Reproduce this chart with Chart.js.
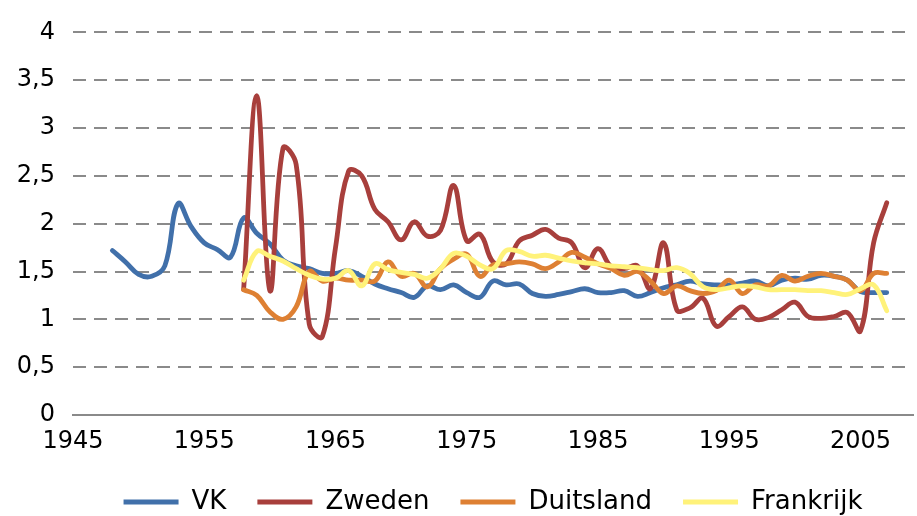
<!DOCTYPE html>
<html>
<head>
<meta charset="utf-8">
<script src="https://cdn.jsdelivr.net/npm/chart.js@4/dist/chart.umd.min.js"></script>
<style>
  html, body { margin: 0; padding: 0; background: #ffffff; }
  #wrap { width: 917px; height: 516px; }
</style>
</head>
<body>
<div id="wrap"><canvas id="c" width="917" height="516"></canvas></div>
<script>
// ---- data ----
const seriesNames = ['VK', 'Zweden', 'Duitsland', 'Frankrijk'];

const vkYears = [1948,1949,1950,1951,1952,1953,1954,1955,1956,1957,1958,1959,1960,1961,1962,1963,1964,1965,1966,1967,1968,1969,1970,1971,1972,1973,1974,1975,1976,1977,1978,1979,1980,1981,1982,1983,1984,1985,1986,1987,1988,1989,1990,1991,1992,1993,1994,1995,1996,1997,1998,1999,2000,2001,2002,2003,2004,2005,2006,2007];
const vkValues = [1.72,1.60,1.47,1.45,1.56,2.21,1.97,1.80,1.73,1.65,2.06,1.90,1.79,1.62,1.56,1.53,1.48,1.48,1.51,1.45,1.37,1.32,1.28,1.23,1.35,1.31,1.36,1.28,1.23,1.40,1.36,1.37,1.27,1.24,1.26,1.29,1.32,1.28,1.28,1.30,1.24,1.28,1.33,1.36,1.40,1.37,1.36,1.36,1.38,1.40,1.35,1.41,1.43,1.42,1.46,1.45,1.41,1.29,1.28,1.28];

const otherYears = [1958,1959,1960,1961,1962,1963,1964,1965,1966,1967,1968,1969,1970,1971,1972,1973,1974,1975,1976,1977,1978,1979,1980,1981,1982,1983,1984,1985,1986,1987,1988,1989,1990,1991,1992,1993,1994,1995,1996,1997,1998,1999,2000,2001,2002,2003,2004,2005,2006,2007];
const zwedenValues = [1.31,3.34,1.30,2.79,2.62,0.95,0.82,1.75,2.55,2.50,2.15,2.02,1.83,2.02,1.87,1.93,2.40,1.82,1.89,1.60,1.58,1.82,1.88,1.94,1.85,1.80,1.54,1.74,1.55,1.53,1.56,1.32,1.80,1.10,1.12,1.22,0.93,1.03,1.13,1.00,1.02,1.10,1.18,1.03,1.01,1.03,1.07,0.88,1.80,2.22];
const duitslandValues = [1.31,1.25,1.08,1.00,1.13,1.50,1.40,1.43,1.41,1.41,1.40,1.60,1.45,1.48,1.34,1.53,1.63,1.68,1.45,1.57,1.58,1.60,1.58,1.53,1.60,1.70,1.65,1.58,1.53,1.46,1.50,1.40,1.27,1.35,1.30,1.27,1.30,1.41,1.27,1.36,1.35,1.46,1.40,1.45,1.48,1.45,1.41,1.30,1.48,1.48];
const frankrijkValues = [1.41,1.71,1.66,1.61,1.53,1.46,1.42,1.43,1.51,1.35,1.58,1.52,1.49,1.47,1.43,1.53,1.69,1.66,1.57,1.53,1.72,1.71,1.66,1.67,1.64,1.61,1.59,1.58,1.56,1.55,1.54,1.52,1.51,1.54,1.48,1.34,1.31,1.33,1.35,1.34,1.31,1.31,1.31,1.30,1.30,1.28,1.26,1.32,1.36,1.09];

const xTickLabels = [1945, 1955, 1965, 1975, 1985, 1995, 2005];
const yTickLabels = ['0', '0,5', '1', '1,5', '2', '2,5', '3', '3,5', '4'];

// ---- styling ----
const colors = ['#4170AA', '#A83F3C', '#DE8033', '#FFF27A'];
const FONT = "'DejaVu Sans', Verdana, sans-serif";

function pts(years, vals) { return years.map((y, i) => ({ x: y, y: vals[i] })); }

const seriesData = [pts(vkYears, vkValues), pts(otherYears, zwedenValues), pts(otherYears, duitslandValues), pts(otherYears, frankrijkValues)];

const datasets = seriesNames.map((n, i) => ({
  label: n,
  data: seriesData[i],
  borderColor: colors[i],
  backgroundColor: colors[i],
  borderWidth: 4.8,
  pointRadius: 0,
  pointHoverRadius: 0,
  tension: 0.4,
  fill: false,
  order: seriesNames.length - 1 - i,
  borderCapStyle: 'round',
  borderJoinStyle: 'round'
}));

new Chart(document.getElementById('c'), {
  type: 'line',
  data: { datasets },
  options: {
    responsive: false,
    animation: false,
    events: [],
    layout: { padding: { top: 24, right: 4, left: 0, bottom: -9 } },
    plugins: {
      tooltip: { enabled: false },
      legend: {
        position: 'bottom',
        fullSize: false,
        labels: {
          font: { family: FONT, size: 26 },
          color: '#000000',
          boxWidth: 55,
          boxHeight: 5,
          padding: 31,
          generateLabels: (chart) => chart.data.datasets.map((d, i) => ({
            text: d.label,
            fillStyle: d.borderColor,
            strokeStyle: d.borderColor,
            lineWidth: 0,
            fontColor: '#000000',
            datasetIndex: i,
            hidden: false
          }))
        }
      }
    },
    scales: {
      x: {
        type: 'linear',
        min: 1945,
        max: 2009,
        afterBuildTicks: (s) => { s.ticks = xTickLabels.map(v => ({ value: v })); },
        afterFit: (s) => { s.height = 43; },
        grid: { display: false, drawTicks: false },
        border: { display: true, color: '#8a8a8a', width: 2 },
        ticks: {
          font: { family: FONT, size: 24 },
          color: '#000000',
          padding: 12,
          maxRotation: 0,
          autoSkip: false,
          callback: (v) => String(v)
        }
      },
      y: {
        min: 0,
        max: 4,
        afterBuildTicks: (s) => { s.ticks = yTickLabels.map((t, i) => ({ value: i * 0.5 })); },
        afterFit: (s) => { s.width = 73; },
        grid: {
          drawTicks: false,
          lineWidth: 2,
          color: (ctx) => (ctx.tick && ctx.tick.value === 0) ? 'rgba(0,0,0,0)' : '#8a8a8a'
        },
        border: { display: false, dash: [13, 8] },
        ticks: {
          font: { family: FONT, size: 24 },
          color: '#000000',
          padding: 18,
          autoSkip: false,
          callback: (v, i) => yTickLabels[i]
        }
      }
    }
  }
});
</script>
</body>
</html>
